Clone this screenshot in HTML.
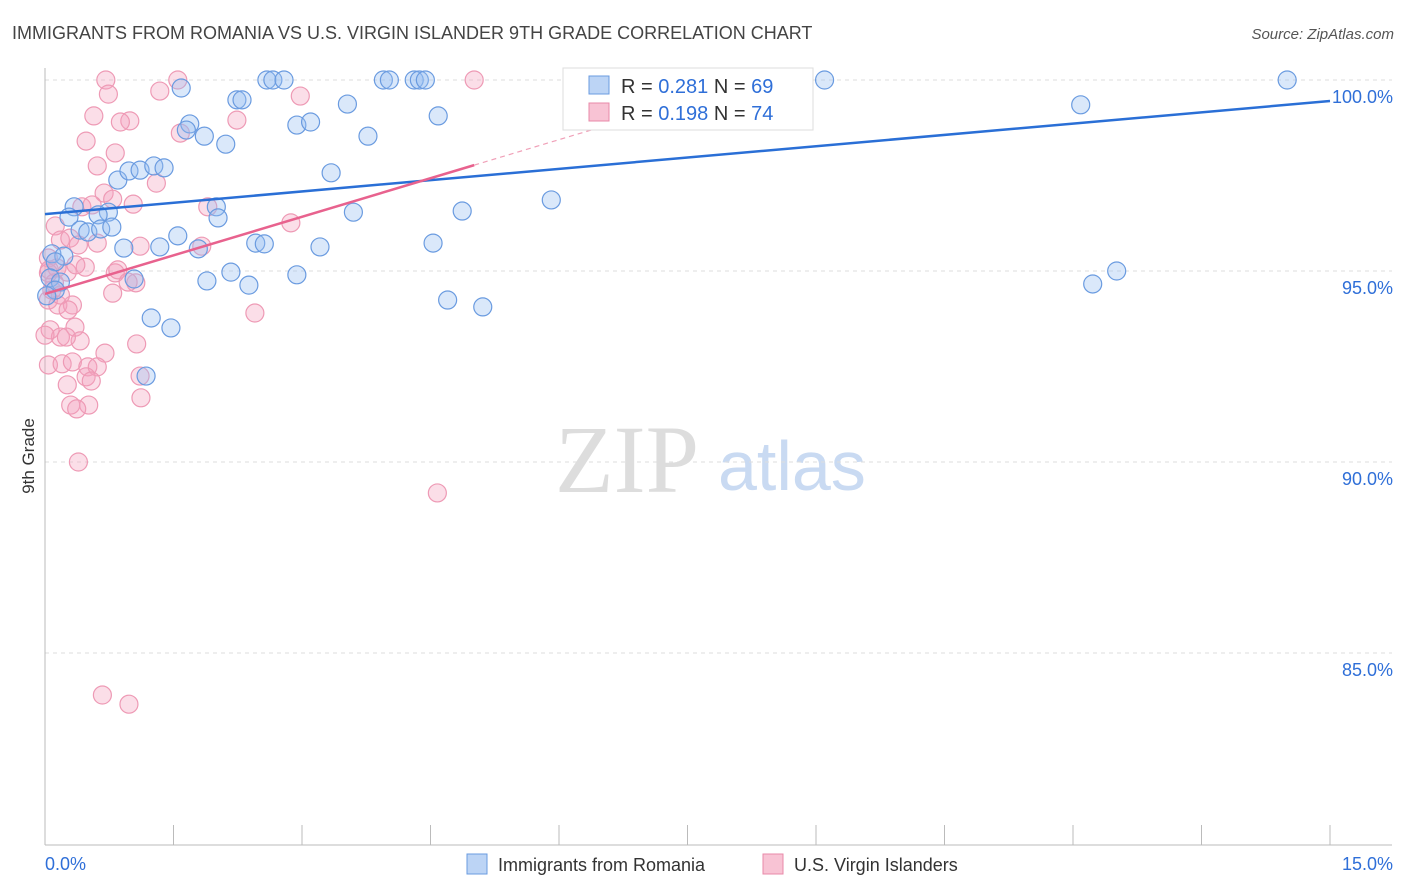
<!DOCTYPE html>
<html><head><meta charset="utf-8"><style>
body{margin:0;background:#fff;font-family:"Liberation Sans",sans-serif}
svg{display:block}
</style></head><body>
<svg id="chart" width="1406" height="892">
<text x="12" y="39" font-size="18" fill="#444">IMMIGRANTS FROM ROMANIA VS U.S. VIRGIN ISLANDER 9TH GRADE CORRELATION CHART</text>
<text x="1394" y="39" font-size="15" fill="#555" text-anchor="end" font-style="italic">Source: ZipAtlas.com</text>
<text x="34" y="456" font-size="17" fill="#333" text-anchor="middle" transform="rotate(-90 34 456)">9th Grade</text>
<text x="555" y="492" font-size="96" fill="#ddd" font-family="Liberation Serif,serif">ZIP</text>
<text x="718" y="490" font-size="70" fill="#c9daf2">atlas</text>
<g id="grid"></g><g id="axes"></g><g id="pts"></g><g id="trend"></g>
<g>
<rect x="563" y="68" width="250" height="62" fill="#fff" stroke="#ddd"/>
<rect x="589" y="76" width="20" height="18" fill="#bcd4f5" stroke="#6a9be0"/>
<rect x="589" y="103" width="20" height="18" fill="#f8c3d4" stroke="#e88aa8"/>
<text x="621" y="93" font-size="20" fill="#333">R = <tspan fill="#2f6fd8">0.281</tspan>   N = <tspan fill="#2f6fd8">69</tspan></text>
<text x="621" y="120" font-size="20" fill="#333">R = <tspan fill="#2f6fd8">0.198</tspan>   N = <tspan fill="#2f6fd8">74</tspan></text>
</g>
<g>
<rect x="467" y="854" width="20" height="20" fill="#bcd4f5" stroke="#6a9be0"/>
<text x="498" y="871" font-size="18" fill="#333">Immigrants from Romania</text>
<rect x="763" y="854" width="20" height="20" fill="#f8c3d4" stroke="#e88aa8"/>
<text x="794" y="871" font-size="18" fill="#333">U.S. Virgin Islanders</text>
</g>
</svg>
<script>
const blueX=[1.59,2.59,2.66,2.79,3.95,4.02,4.31,4.37,4.44,9.10,14.50,2.24,2.30,3.53,12.09,1.69,1.65,1.86,2.94,3.10,3.77,4.59,2.11,0.85,0.98,1.11,1.27,1.39,3.34,5.91,0.34,0.74,0.62,0.28,2.00,2.02,3.60,4.87,0.41,0.50,0.65,0.78,1.55,0.92,1.34,1.79,2.46,2.56,3.21,4.53,0.08,0.22,0.12,0.06,0.18,2.17,1.89,2.38,2.94,1.04,12.51,12.23,4.70,5.11,1.24,1.47,1.18,0.12,0.02];
const blueY=[99.79,100,100,100,100,100,100,100,100,100,100,99.48,99.48,99.37,99.35,98.85,98.69,98.53,98.82,98.90,98.53,99.06,98.32,97.38,97.62,97.64,97.75,97.70,97.57,96.86,96.68,96.54,96.47,96.41,96.68,96.39,96.54,96.57,96.07,96.02,96.10,96.15,95.92,95.60,95.63,95.58,95.73,95.71,95.63,95.73,95.45,95.39,95.24,94.82,94.71,94.97,94.74,94.63,94.90,94.79,95.00,94.66,94.24,94.06,93.77,93.51,92.25,94.50,94.35];
const pinkX=[0.71,1.55,5.01,0.74,1.34,2.98,0.57,0.99,0.88,2.24,1.58,0.48,0.82,0.61,1.30,0.69,1.03,1.90,2.87,0.79,0.43,0.55,0.12,0.18,0.29,0.39,0.61,1.11,1.83,0.04,0.14,0.26,0.47,0.36,0.82,0.85,1.06,0.97,0.79,0.04,0.15,0.32,0.06,0.18,0.35,0.41,0.25,0.70,1.07,0.04,0.20,0.32,0.50,0.61,0.48,0.54,1.11,0.26,0.51,0.30,0.37,1.12,2.45,0.39,4.58,0.67,0.98,0.00,0.04,0.08,0.18,0.11,0.05,0.27];
const pinkY=[100,100,100,99.63,99.71,99.58,99.06,98.93,98.90,98.95,98.61,98.40,98.09,97.75,97.30,97.04,96.75,96.68,96.26,96.88,96.68,96.73,96.18,95.81,95.86,95.68,95.73,95.65,95.65,95.34,95.08,94.97,95.10,95.16,94.95,95.03,94.69,94.71,94.42,94.24,94.11,94.11,93.46,93.27,93.53,93.17,93.27,92.85,93.09,92.54,92.57,92.62,92.49,92.49,92.23,92.12,92.25,92.02,91.49,91.49,91.39,91.68,93.90,90.00,89.19,83.90,83.66,93.32,94.95,94.50,94.37,94.69,95.03,93.98];
const blueTrend=[96.49,99.45];
const pinkTrend=[94.40,0.673];
const yTicks=[100,95,90,85];
const xTickVals=[0,1.5,3,4.5,6,7.5,9,10.5,12,13.5,15];
const NS='http://www.w3.org/2000/svg';
const sx=v=>45+v*(1285/15);
const sy=v=>80+(100-v)*38.2;
function mk(p,t,a){const e=document.createElementNS(NS,t);for(const k in a)e.setAttribute(k,a[k]);p.appendChild(e);return e;}
const grid=document.getElementById('grid'),axes=document.getElementById('axes'),pts=document.getElementById('pts'),tr=document.getElementById('trend');
yTicks.forEach(v=>{
 const l=mk(grid,'line',{x1:45,x2:1392,y1:sy(v),y2:sy(v),stroke:'#ddd','stroke-dasharray':'4,4'});
 
 
 const t=mk(grid,'text',{x:1393,y:sy(v)+23,'font-size':18,fill:'#2f6fd8','text-anchor':'end'});
 t.textContent=v.toFixed(1)+'%';
 
 
});
const ya=mk(axes,'line',{x1:45,x2:45,y1:68,y2:845,stroke:'#bbb'});


const xa=mk(axes,'line',{x1:45,x2:1392,y1:845,y2:845,stroke:'#bbb'});


xTickVals.forEach(v=>{
 const l=mk(axes,'line',{x1:sx(v),x2:sx(v),y1:825,y2:845,stroke:'#bbb'});
 
 
});
const xl0=mk(axes,'text',{x:45,y:870,'font-size':18,fill:'#2f6fd8'});xl0.textContent='0.0%';


const xl1=mk(axes,'text',{x:1393,y:870,'font-size':18,fill:'#2f6fd8','text-anchor':'end'});xl1.textContent='15.0%';


pinkX.forEach((x,i)=>{
 const c=mk(pts,'circle',{cx:sx(x),cy:sy(pinkY[i]),r:9,fill:'rgba(244,160,190,0.35)',stroke:'#ee9ab5','stroke-width':1.2});
 
 
});
blueX.forEach((x,i)=>{
 const c=mk(pts,'circle',{cx:sx(x),cy:sy(blueY[i]),r:9,fill:'rgba(150,190,240,0.35)',stroke:'#6a9be0','stroke-width':1.2});
 
 
});
const bl=mk(tr,'line',{x1:sx(0),y1:sy(blueTrend[0]),x2:sx(15),y2:sy(blueTrend[1]),stroke:'#2a6fd6','stroke-width':2.5});


const pl=mk(tr,'line',{x1:sx(0),y1:sy(pinkTrend[0]),x2:sx(5.01),y2:sy(pinkTrend[0]+pinkTrend[1]*5.01),stroke:'#e8628e','stroke-width':2.5});


const pd=mk(tr,'line',{x1:sx(5.01),y1:sy(pinkTrend[0]+pinkTrend[1]*5.01),x2:sx(6.5),y2:sy(pinkTrend[0]+pinkTrend[1]*6.5),stroke:'#f0a0b8','stroke-width':1.2,'stroke-dasharray':'5,4'});


</script>
</body></html>
